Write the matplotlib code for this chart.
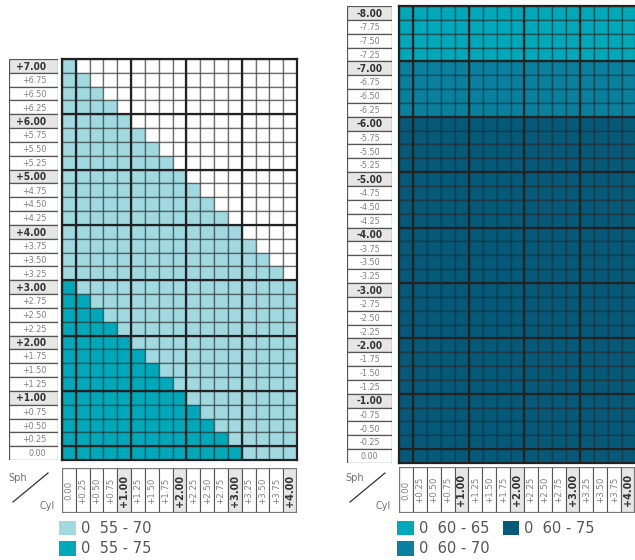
import numpy as np
import matplotlib.pyplot as plt
from matplotlib.colors import ListedColormap
from matplotlib.patches import Rectangle, Patch

# Sph labels, top to bottom
sph_left = ['+7.00', '+6.75', '+6.50', '+6.25', '+6.00', '+5.75', '+5.50', '+5.25',
            '+5.00', '+4.75', '+4.50', '+4.25', '+4.00', '+3.75', '+3.50', '+3.25',
            '+3.00', '+2.75', '+2.50', '+2.25', '+2.00', '+1.75', '+1.50', '+1.25',
            '+1.00', '+0.75', '+0.50', '+0.25', '0.00']
sph_right = ['-8.00', '-7.75', '-7.50', '-7.25', '-7.00', '-6.75', '-6.50', '-6.25',
             '-6.00', '-5.75', '-5.50', '-5.25', '-5.00', '-4.75', '-4.50', '-4.25',
             '-4.00', '-3.75', '-3.50', '-3.25', '-3.00', '-2.75', '-2.50', '-2.25',
             '-2.00', '-1.75', '-1.50', '-1.25', '-1.00', '-0.75', '-0.50', '-0.25', '0.00']
cyl = ['0.00', '+0.25', '+0.50', '+0.75', '+1.00', '+1.25', '+1.50', '+1.75', '+2.00',
       '+2.25', '+2.50', '+2.75', '+3.00', '+3.25', '+3.50', '+3.75', '+4.00']

# left chart: how many cyl cells are filled per sph row
left_light = [1, 2, 3, 4, 5, 6, 7, 8, 9, 10, 11, 12, 13, 14, 15, 16,
              17, 17, 17, 17, 17, 17, 17, 17, 17, 17, 17, 17, 17]
left_dark = [0, 0, 0, 0, 0, 0, 0, 0, 0, 0, 0, 0, 0, 0, 0, 0,
             1, 2, 3, 4, 5, 6, 7, 8, 9, 10, 11, 12, 13]
# right chart: diameter range per sph row (all cyl filled)
right_range = ['60-65'] * 4 + ['60-70'] * 4 + ['60-75'] * 25

left_legend = ['0  55 - 70', '0  55 - 75']
right_legend = ['0  60 - 65', '0  60 - 70', '0  60 - 75']

c_light = '#a1d9e1'
c_teal = '#00a9b9'
c_mid = '#08809e'
c_dark = '#065a79'
cmap = ListedColormap(['white', c_light, c_teal, c_mid, c_dark])
band_code = {'60-65': 2, '60-70': 3, '60-75': 4}

W, H = 635, 560
fig = plt.figure(figsize=(W / 100, H / 100), dpi=100)
plt.rcParams['font.family'] = 'DejaVu Sans'


def px_axes(x0, y0, x1, y1):
    return fig.add_axes([x0 / W, 1 - y1 / H, (x1 - x0) / W, (y1 - y0) / H])


def is_major(lab):
    return lab.endswith('.00')


def draw_grid(ax, mat, rows):
    nr, nc = mat.shape
    ax.pcolormesh(np.arange(nc + 1), np.arange(nr + 1), mat, cmap=cmap, vmin=0, vmax=4,
                  edgecolors=(0.1, 0.1, 0.1, 0.5), linewidth=1.0, antialiased=True)
    ax.set_xlim(0, nc)
    ax.set_ylim(nr, 0)
    rb = [i for i, lab in enumerate(rows) if is_major(lab) and i > 0]
    cb = [i + 1 for i, lab in enumerate(cyl) if is_major(lab) and i + 1 < nc]
    ax.hlines(rb, 0, nc, color='#222222', lw=1.6)
    ax.vlines(cb, 0, nr, color='#222222', lw=1.6)
    ax.set_xticks([])
    ax.set_yticks([])
    for s in ax.spines.values():
        s.set_linewidth(1.6)
        s.set_color('#222222')


def draw_row_labels(ax, rows, ha, xt):
    for i, lab in enumerate(rows):
        bold = is_major(lab) and lab != '0.00'
        ax.add_patch(Rectangle((0, i), 1, 1, facecolor='#e6e6e6' if bold else 'white',
                               edgecolor='#555555', lw=0.9))
        ax.text(xt, i + 0.55, lab, ha=ha, va='center', fontstretch='condensed',
                fontsize=7.3 if bold else 6.5, color='#333333' if bold else '#808080',
                fontweight='bold' if bold else 'normal')
    ax.set_xlim(0, 1)
    ax.set_ylim(len(rows), 0)
    ax.axis('off')


def draw_col_labels(ax):
    for i, lab in enumerate(cyl):
        bold = is_major(lab) and lab != '0.00'
        ax.add_patch(Rectangle((i, 0), 1, 1, facecolor='#e6e6e6' if bold else 'white',
                               edgecolor='#555555', lw=0.8))
        ax.text(i + 0.5, 0.5, lab, ha='center', va='center', rotation=90,
                fontsize=7 if bold else 6.2, color='#333333' if bold else '#808080',
                fontweight='bold' if bold else 'normal')
    ax.add_patch(Rectangle((0, 0), len(cyl), 1, facecolor='none', edgecolor='#777777', lw=1.6))
    ax.set_xlim(0, len(cyl))
    ax.set_ylim(0, 1)
    ax.axis('off')


# left chart
mat_l = np.zeros((len(sph_left), len(cyl)), dtype=int)
for i in range(len(sph_left)):
    mat_l[i, :left_light[i]] = 1
    mat_l[i, :left_dark[i]] = 2
draw_grid(px_axes(62, 59, 297, 460), mat_l, sph_left)
draw_row_labels(px_axes(9, 59, 58, 460), sph_left, 'right', 0.76)
draw_col_labels(px_axes(62, 468, 297, 513))

# right chart
mat_r = np.array([[band_code[b]] * len(cyl) for b in right_range])
draw_grid(px_axes(399, 6, 636, 463), mat_r, sph_right)
draw_row_labels(px_axes(347, 6, 392, 463), sph_right, 'center', 0.5)
draw_col_labels(px_axes(399, 467, 635, 513))

# overlay for Sph/Cyl corners and legends
ov = fig.add_axes([0, 0, 1, 1])
ov.set_xlim(0, W)
ov.set_ylim(H, 0)
ov.axis('off')
for x0 in [0, 337]:
    ov.text(8 + x0, 478, 'Sph', fontsize=7, color='#707070', va='center')
    ov.text(39 + x0, 506, 'Cyl', fontsize=7, color='#707070', va='center')
    ov.plot([13 + x0, 48 + x0], [502, 473], color='#333333', lw=0.9)

lh = [Patch(facecolor=c, edgecolor='none') for c in [c_light, c_teal]]
leg1 = ov.legend(lh, left_legend, loc='upper left', bbox_to_anchor=(59 / W, 1 - 521 / H),
                 frameon=False, fontsize=10.5, handlelength=1.15, handleheight=1.15,
                 handletextpad=0.35, labelspacing=0.35, borderpad=0, borderaxespad=0,
                 labelcolor='#555555')
ov.add_artist(leg1)
rh = [Patch(facecolor=c, edgecolor='none') for c in [c_teal, c_mid, c_dark]]
ov.legend(rh, right_legend, loc='upper left', bbox_to_anchor=(397 / W, 1 - 521 / H),
          ncol=2, frameon=False, fontsize=10.5, handlelength=1.15, handleheight=1.15,
          handletextpad=0.35, labelspacing=0.35, columnspacing=0.9, borderpad=0,
          borderaxespad=0, labelcolor='#555555')

fig.savefig('out.png', dpi=100)
